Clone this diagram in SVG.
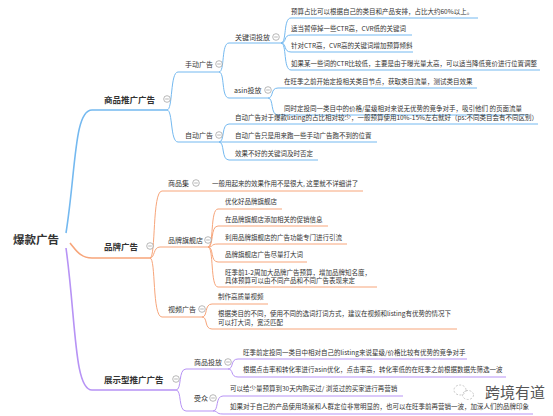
<svg xmlns="http://www.w3.org/2000/svg" width="553" height="416" viewBox="0 0 553 416">
<style>
text{font-family:"Noto Sans CJK SC","Noto Sans",sans-serif;fill:#333}
.leaf{font-size:6.5px}
.sub{font-size:7px}
.main{font-size:8.5px;font-weight:bold}
.root{font-size:11.5px;font-weight:bold}
.b{fill:none;stroke:#74b9f0;stroke-width:1}
.o{fill:none;stroke:#f7a57a;stroke-width:1}
.p{fill:none;stroke:#b793f5;stroke-width:1}
.thick{stroke-width:1.6}
.tog circle{fill:#fff;stroke:#999;stroke-width:0.7}
.tog line{stroke:#999;stroke-width:0.7}
</style>
<defs>
<g id="toggle" class="tog"><circle cx="0" cy="0" r="3.3"/><line x1="-1.8" y1="0" x2="1.8" y2="0"/></g>
</defs>
<rect width="553" height="416" fill="#fff"/>
<g id="connectors">
<path class="b thick" d="M66 233 C76 170,74 110,92 110 L167 110"/>
<path class="b" d="M167 110 C173 110,170 72,178 72 L219 72"/>
<path class="b" d="M167 110 C173 110,170 142,178 142 L219 142"/>
<path class="b" d="M219 72 C225 72,221 43,229 43 L281 43"/>
<path class="b" d="M219 72 C225 72,221 98,229 98 L268 98"/>
<path class="b" d="M281 43 C287 43,283 18,291 18 L478 18"/>
<path class="b" d="M281 43 C287 43,283 35,291 35 L412 35"/>
<path class="b" d="M281 43 C287 43,283 52,291 52 L413 52"/>
<path class="b" d="M281 43 C287 43,283 70,291 70 L540 70"/>
<path class="b" d="M268 98 C274 98,270 88,278 88 L477 88"/>
<path class="b" d="M268 98 C274 98,270 115,278 115 L528 115"/>
<path class="b" d="M219 142 C225 142,221 124,229 124 L538 124"/>
<path class="b" d="M219 142 L377 142"/>
<path class="b" d="M219 142 C225 142,221 160,229 160 L318 160"/>
<path class="o thick" d="M70 243 C76 250,80 258,92 258 L150 258"/>
<path class="o" d="M150 258 C156 258,152 191,162 191 L363 191"/>
<path class="o" d="M150 258 C155 258,153 247,160 247 L208 247"/>
<path class="o" d="M150 258 C156 258,152 317,162 317 L202 317"/>
<path class="o" d="M208 247 C214 247,210 209,218 209 L282 209"/>
<path class="o" d="M208 247 C214 247,210 226,218 226 L328 226"/>
<path class="o" d="M208 247 C214 247,210 244,218 244 L347 244"/>
<path class="o" d="M208 247 C214 247,210 262,218 262 L307 262"/>
<path class="o" d="M208 247 C214 247,210 287,218 287 L377 287"/>
<path class="o" d="M202 317 C208 317,204 304,212 304 L268 304"/>
<path class="o" d="M202 317 C208 317,204 329,212 329 L457 329"/>
<path class="p thick" d="M66 248 C76 320,74 390,92 390 L176 390"/>
<path class="p" d="M176 390 C182 390,178 369,186 369 L228 369"/>
<path class="p" d="M176 390 C182 390,178 411,186 411 L213 411"/>
<path class="p" d="M228 369 C234 369,230 359,238 359 L467 359"/>
<path class="p" d="M228 369 C234 369,230 377,238 377 L506 377"/>
<path class="p" d="M213 411 C219 411,215 396,223 396 L403 396"/>
<path class="p" d="M213 411 C219 411,215 414,223 414 L533 414"/>
</g>
<g id="root"><text class="root" x="13" y="244">爆款广告</text></g>
<g id="n-spgg"><text class="main" x="104" y="103">商品推广广告</text><use href="#toggle" x="167" y="99"/></g>
<g id="n-sdgg"><text class="sub" x="185" y="66.5">手动广告</text><use href="#toggle" x="219" y="64"/></g>
<g id="n-gjc"><text class="sub" x="235" y="39.5">关键词投放</text><use href="#toggle" x="276" y="37"/></g>
<g id="n-gjc1"><text class="leaf" x="291" y="14.3">预算占比可以根据自己的类目和产品安排，占比大约60%以上。</text></g>
<g id="n-gjc2"><text class="leaf" x="291" y="31.3">适当暂停掉一些CTR高，CVR低的关键词</text></g>
<g id="n-gjc3"><text class="leaf" x="291" y="48.3">针对CTR高，CVR高的关键词增加预算倾斜</text></g>
<g id="n-gjc4"><text class="leaf" x="291" y="66.3">如果某一些词的CTR比较低，主要是由于曝光量太高，可以适当降低竞价进行位置调整</text></g>
<g id="n-asin"><text class="sub" x="234" y="92.5">asin投放</text><use href="#toggle" x="268" y="90"/></g>
<g id="n-asin1"><text class="leaf" x="284" y="84.3">在旺季之前开始定投相关类目节点，获取类目流量，测试类目效果</text></g>
<g id="n-asin2"><text class="leaf" x="284" y="110.6">同时定投同一类目中的价格/星级相对来说无优势的竞争对手，吸引他们 的页面流量</text></g>
<g id="n-zdgg"><text class="sub" x="185" y="137.5">自动广告</text><use href="#toggle" x="219" y="135"/></g>
<g id="n-zd1"><text class="leaf" x="235" y="120">自动广告对于爆款listing的占比相对较少，一般预算使用10%-15%左右就好（ps:不同类目会有不同区别）</text></g>
<g id="n-zd2"><text class="leaf" x="235" y="137.8">自动广告只是用来跑一些手动广告跑不到的位置</text></g>
<g id="n-zd3"><text class="leaf" x="235" y="155.8">效果不好的关键词及时否定</text></g>
<g id="n-ppgg"><text class="main" x="104" y="250">品牌广告</text><use href="#toggle" x="150" y="246"/></g>
<g id="n-spj"><text class="sub" x="168" y="185.5">商品集</text><use href="#toggle" x="196" y="183"/></g>
<g id="n-spj1"><text class="leaf" x="212" y="185.8">一般用起来的效果作用不是很大, 这里就不详细讲了</text></g>
<g id="n-qjd"><text class="sub" x="168" y="242.5">品牌旗舰店</text><use href="#toggle" x="208" y="240"/></g>
<g id="n-qjd1"><text class="leaf" x="225" y="204.3">优化好品牌旗舰店</text></g>
<g id="n-qjd2"><text class="leaf" x="225" y="221.8">在品牌旗舰店添加相关的促销信息</text></g>
<g id="n-qjd3"><text class="leaf" x="225" y="239.8">利用品牌旗舰店的广告功能专门进行引流</text></g>
<g id="n-qjd4"><text class="leaf" x="225" y="256.8">品牌旗舰店广告尽量打大词</text></g>
<g id="n-qjd5"><text class="leaf" x="225" y="274.8">旺季前1-2周加大品牌广告预算，增加品牌知名度，</text><text class="leaf" x="225" y="283.3">具体预算可以由不同产品和不同广告表现来定</text></g>
<g id="n-sp"><text class="sub" x="168" y="311.5">视频广告</text><use href="#toggle" x="202" y="309"/></g>
<g id="n-sp1"><text class="leaf" x="218" y="299.3">制作高质量视频</text></g>
<g id="n-sp2"><text class="leaf" x="218" y="315.8">根据类目的不同，使用不同的选词打词方式，建议在视频和listing有优势的情况下</text><text class="leaf" x="218" y="324.5">可以打大词，宽泛匹配</text></g>
<g id="n-zs"><text class="main" x="104" y="383">展示型推广广告</text><use href="#toggle" x="176" y="379"/></g>
<g id="n-sptf"><text class="sub" x="194" y="364.5">商品投放</text><use href="#toggle" x="228" y="362"/></g>
<g id="n-sptf1"><text class="leaf" x="243" y="355.3">旺季前定投同一类目中相对自己的listing来说星级/价格比较有优势的竞争对手</text></g>
<g id="n-sptf2"><text class="leaf" x="243" y="372.3">根据点击率和转化率进行asin优化，点击率高，转化率低的在旺季之前根据数据先筛选一波</text></g>
<g id="n-sz"><text class="sub" x="194" y="400.5">受众</text><use href="#toggle" x="213" y="398"/></g>
<g id="n-sz1"><text class="leaf" x="230" y="391.3">可以给少量预算到30天内购买过/ 浏览过的买家进行再营销</text></g>
<g id="n-sz2"><text class="leaf" x="230" y="409.3">如果对于自己的产品使用场景和人群定位非常明显的，也可以在旺季前再营销一波，加深人们的品牌印象</text></g>
<g id="watermark">
<ellipse cx="460" cy="390" rx="6" ry="5" fill="none" stroke="#bbb" stroke-width="0.8" stroke-dasharray="2 1.5"/>
<ellipse cx="468" cy="395" rx="5.5" ry="4.5" fill="none" stroke="#bbb" stroke-width="0.8" stroke-dasharray="2 1.5"/>
<text x="485" y="398" style="font-size:15px;fill:#555">跨境有道</text>
</g>
</svg>
